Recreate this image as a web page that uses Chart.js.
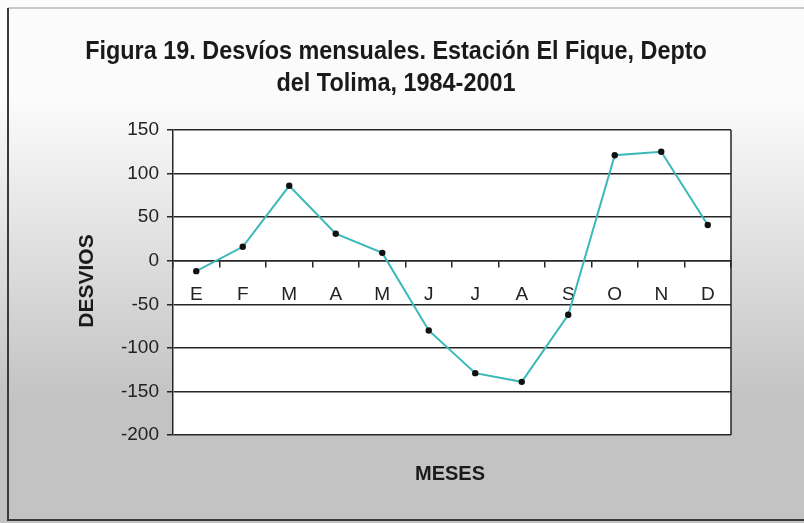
<!DOCTYPE html>
<html>
<head>
    <title>Desvíos mensuales - El Fique</title>
    <script src="https://cdn.jsdelivr.net/npm/chart.js"></script>
    <style>
        body { margin: 0; background: #fff; }
        canvas { display: block; }
    </style>
</head>
<body>
    <canvas id="desviosChart" width="804" height="523"></canvas>
    <script>
    const meses = ['E', 'F', 'M', 'A', 'M', 'J', 'J', 'A', 'S', 'O', 'N', 'D'];
    const desvios = [-12, 16, 86, 31, 9, -80, -129, -139, -62, 121, 125, 41];
    const yTicks = [150, 100, 50, 0, -50, -100, -150, -200];
    const titulo = ['Figura 19. Desvíos mensuales. Estación El Fique, Depto', 'del Tolima, 1984-2001'];

    const lineColor = '#3bb8b8';
    const gridColor = '#262626';
    const plainFont = "'Liberation Sans', Arial, sans-serif";

    // condensed bold: squeeze a regular bold face horizontally
    function narrowText(ctx, text, x, y) {
        ctx.save();
        ctx.translate(x, y);
        ctx.scale(0.9, 1);
        ctx.fillText(text, 0, 0);
        ctx.restore();
    }

    // background, frame and the texts around the plot
    const decor = {
        id: 'decor',
        beforeDraw(chart) {
            const { ctx, width, height, chartArea: a } = chart;
            ctx.save();
            const g = ctx.createLinearGradient(0, 100, 0, 400);
            g.addColorStop(0, '#fbfbfb');
            g.addColorStop(1, '#c3c3c3');
            ctx.fillStyle = g;
            ctx.fillRect(0, 0, width, height);

            // frame
            ctx.strokeStyle = '#c8c8c8';
            ctx.lineWidth = 2;
            ctx.beginPath();
            ctx.moveTo(8, 8); ctx.lineTo(width, 8);
            ctx.stroke();
            ctx.strokeStyle = '#3a3a3a';
            ctx.beginPath();
            ctx.moveTo(8, 8); ctx.lineTo(8, 520); ctx.lineTo(width, 520);
            ctx.stroke();

            ctx.fillStyle = '#ffffff';
            ctx.fillRect(a.left, a.top, a.right - a.left, a.bottom - a.top);
            ctx.restore();
        },
        afterDraw(chart) {
            const { ctx, chartArea: a } = chart;
            ctx.save();
            ctx.strokeStyle = gridColor;
            ctx.lineWidth = 1.5;
            ctx.beginPath();
            ctx.moveTo(a.right, a.top); ctx.lineTo(a.right, a.bottom);
            ctx.stroke();

            ctx.fillStyle = '#1a1a1a';
            ctx.textAlign = 'center';
            ctx.textBaseline = 'alphabetic';
            ctx.font = 'bold 26px ' + plainFont;
            narrowText(ctx, titulo[0], 396, 59);
            narrowText(ctx, titulo[1], 396, 91);

            ctx.font = 'bold 20px ' + plainFont;
            ctx.textBaseline = 'middle';
            ctx.fillText('MESES', 450, 474);
            ctx.translate(87, 281);
            ctx.rotate(-Math.PI / 2);
            ctx.font = 'bold 21px ' + plainFont;
            ctx.fillText('DESVIOS', 0, 0);
            ctx.restore();
        }
    };

    new Chart(document.getElementById('desviosChart').getContext('2d'), {
        type: 'line',
        data: {
            labels: meses,
            datasets: [{
                data: desvios,
                borderColor: lineColor,
                borderWidth: 2,
                tension: 0,
                pointRadius: 3.2,
                pointBackgroundColor: '#111',
                pointBorderWidth: 0
            }]
        },
        options: {
            responsive: false,
            animation: false,
            layout: { padding: { left: 113, right: 73, top: 130, bottom: 88 } },
            plugins: { legend: { display: false }, title: { display: false }, tooltip: { enabled: false } },
            scales: {
                x: {
                    position: { y: 0 },
                    offset: true,
                    grid: { offset: true, drawOnChartArea: false, color: gridColor, tickLength: 6, lineWidth: 1.5 },
                    border: { display: true, color: gridColor, width: 1.5 },
                    ticks: { color: '#222', font: { size: 19, family: plainFont }, padding: 17, maxRotation: 0 }
                },
                y: {
                    min: -200,
                    max: 150,
                    afterFit(scale) { scale.width = 60; },
                    afterBuildTicks(scale) { scale.ticks = yTicks.map(v => ({ value: v })); },
                    grid: { color: gridColor, lineWidth: 1.5, tickLength: 6 },
                    border: { display: true, color: gridColor, width: 1.5 },
                    ticks: { color: '#222', font: { size: 19, family: plainFont }, padding: 8 }
                }
            }
        },
        plugins: [decor]
    });
    </script>
</body>
</html>
